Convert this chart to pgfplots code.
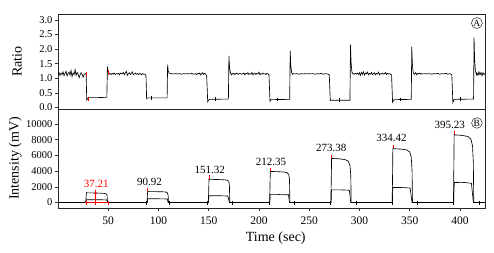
\documentclass[border=0pt]{standalone}
\usepackage{fontspec}
\setmainfont{Liberation Serif}
\usepackage{pgfplots}
\pgfplotsset{compat=1.18}
\begin{document}
\begin{tikzpicture}
\path[use as bounding box] (0pt,0pt) rectangle (494pt,252pt);
\pgfplotsset{
  myax/.style={
    scale only axis, width=427pt, xmin=0, xmax=425,
    axis line style={black!85, line width=0.9pt},
    tick pos=left, tick align=outside, major tick length=3pt,
    tick style={black!80, line width=0.5pt},
    /pgf/number format/assume math mode=true,
    scaled y ticks=false,
    yticklabel style={font=\fontsize{10.5}{12}\selectfont, xshift=1pt},
    xticklabel style={font=\fontsize{11.5}{13}\selectfont, yshift=-2pt},
    unbounded coords=jump,
    clip=true,
  }
}
% ---------------- Top panel (A) ----------------
\begin{axis}[myax, name=top, at={(58pt,143pt)}, anchor=south west, height=95pt,
  ymin=-0.05, ymax=3.2, xtick=\empty,
  ytick={0,0.5,...,3.0},
  yticklabel style={/pgf/number format/fixed, /pgf/number format/fixed zerofill, /pgf/number format/precision=1},
  ylabel={Ratio},
  every axis y label/.style={at={(axis description cs:-0.096,0.5)}, rotate=90, anchor=center, font=\fontsize{14}{16}\selectfont},
]
\addplot[black, line width=0.65pt] coordinates {
(0,1.14)(1,1.19)(2,1.10)(3,1.18)(4,1.13)(5,1.22)(6,1.09)(7,1.17)(8,1.24)(9,1.08)(10,1.16)(11,1.21)(12,1.11)(13,1.27)(14,1.06)(15,1.18)(16,1.13)(17,1.30)(18,1.10)(19,1.20)(20,1.15)(21,1.02)(22,1.12)(23,1.19)(24,1.14)(25,1.04)(26,1.13)(27,1.16)(28,1.15)
(28.6,0.26)(29.5,0.30)(30.5,0.34)(40,0.34)(48.6,0.35)
(49.2,1.40)(49.8,1.25)(50.5,1.18)(51.5,1.15)
(52,1.16)(53,1.13)(54,1.17)(55,1.14)(56,1.18)(57,1.13)(58,1.16)(59,1.15)(60,1.17)(61,1.12)(62,1.18)(63,1.15)(64,1.16)(65,1.20)(66,1.12)(67,1.18)(68,1.24)(69,1.10)(70,1.16)(71,1.19)(72,1.13)(73,1.17)(74,1.22)(75,1.12)(76,1.15)(77,1.18)(78,1.14)(79,1.16)(80,1.13)(81,1.17)(82,1.15)(83,1.12)(84,1.16)(85,1.14)(86,1.15)(87,1.12)(87.6,1.08)
(88.2,0.30)(89,0.33)(100,0.33)(108.6,0.33)
(109.1,1.47)(109.7,1.25)(110.5,1.18)(112,1.15)
(113,1.16)(115,1.15)(117,1.16)(119,1.15)(121,1.16)(123,1.14)(125,1.16)(127,1.15)(129,1.16)(131,1.15)(133,1.17)(135,1.14)(137,1.16)(138,1.13)(139,1.17)(140,1.15)(141,1.18)(142,1.12)(143,1.16)(144,1.19)(145,1.13)(146,1.17)(147,1.15)(148,1.08)
(149,0.20)(150,0.26)(151,0.28)(169.6,0.29)
(170.1,1.77)(170.7,1.40)(171.5,1.20)(172.5,1.12)(173.5,1.16)
(174,1.15)(175,1.17)(176,1.13)(177,1.16)(178,1.18)(179,1.14)(180,1.15)(181,1.17)(182,1.15)(183,1.14)(184,1.16)(185,1.18)(186,1.12)(187,1.17)(188,1.15)(189,1.19)(190,1.13)(191,1.16)(192,1.14)(193,1.20)(194,1.12)(195,1.16)(196,1.18)(197,1.13)(198,1.17)(199,1.15)(200,1.21)(201,1.12)(202,1.16)(203,1.14)(204,1.18)(205,1.15)(206,1.16)(207,1.13)(208,1.17)(209,1.15)(210,1.12)
(211,0.22)(212,0.27)(230.6,0.28)
(231.1,1.94)(231.7,1.45)(232.5,1.20)(233.5,1.14)
(234,1.16)(236,1.15)(238,1.16)(240,1.14)(242,1.16)(244,1.15)(246,1.16)(248,1.15)(250,1.16)(252,1.15)(254,1.16)(256,1.14)(258,1.16)(260,1.15)(262,1.17)(264,1.14)(266,1.16)(268,1.15)(270,1.12)
(271,0.24)(272,0.25)(290.6,0.25)
(291.1,2.15)(291.7,1.55)(292.5,1.22)(293.5,1.15)
(294,1.16)(295,1.14)(296,1.17)(297,1.15)(298,1.18)(299,1.13)(300,1.19)(301,1.10)(302,1.20)(303,1.14)(304,1.22)(305,1.11)(306,1.18)(307,1.15)(308,1.21)(309,1.12)(310,1.17)(311,1.14)(312,1.20)(313,1.13)(314,1.16)(315,1.19)(316,1.12)(317,1.17)(318,1.15)(319,1.21)(320,1.12)(321,1.16)(322,1.15)(323,1.18)(324,1.14)(325,1.16)(326,1.20)(327,1.13)(328,1.17)(329,1.15)(330,1.16)(331,1.14)(332,1.12)
(333,0.18)(334,0.25)(335,0.27)(351.6,0.28)
(352.1,2.08)(352.7,1.50)(353.5,1.20)(354.5,1.14)
(355,1.16)(356,1.19)(357,1.12)(358,1.17)(359,1.15)(360,1.18)(361,1.14)(362,1.16)(364,1.15)(366,1.16)(368,1.15)(370,1.16)(372,1.14)(374,1.16)(376,1.15)(378,1.17)(380,1.14)(382,1.16)(384,1.15)(386,1.17)(388,1.14)(390,1.16)(392,1.12)
(393,0.17)(394,0.26)(395,0.28)(413.6,0.29)
(414.1,2.39)(414.7,1.60)(415.5,1.25)(416.5,1.12)
(417,1.18)(418,1.10)(419,1.22)(420,1.12)(421,1.20)(422,1.09)(423,1.19)(424,1.13)(425,1.16)
};
\addplot[red, only marks, mark=|, mark size=2.2pt, mark options={line width=0.8pt}] coordinates {(28,1.15)(30,0.30)(50,1.20)};
\addplot[black, only marks, mark=|, mark size=1.8pt, mark options={line width=0.6pt}] coordinates {(93,0.33)(157,0.29)(218,0.28)(280,0.25)(341,0.28)(400,0.29)};
\node[draw, circle, inner sep=0.6pt, line width=0.4pt, font=\fontsize{9.5}{10}\selectfont] at (rel axis cs:0.981,0.905) {A};
\end{axis}
% ---------------- Bottom panel (B) ----------------
\begin{axis}[myax, name=bot, at={(58pt,44pt)}, anchor=south west, height=99pt,
  ymin=-700, ymax=11900,
  ytick={0,2000,...,10000},
  xtick={50,100,...,400},
  yticklabel style={/pgf/number format/fixed, /pgf/number format/1000 sep={}},
  ylabel={Intensity (mV)}, xlabel={Time (sec)},
  every axis y label/.style={at={(axis description cs:-0.100,0.5)}, rotate=90, anchor=center, font=\fontsize{14}{16}\selectfont},
  every axis x label/.style={at={(axis description cs:0.51,-0.30)}, anchor=center, font=\fontsize{14}{16}\selectfont},
]
% upper channel
\addplot[black, line width=0.65pt] coordinates {
(0,0)(27.6,0)(28,800)(28.3,1260)(29,1230)(35,1220)(42,1190)(46,1160)(48,1100)(48.8,950)(49.2,0)
(88.6,0)(89,1000)(89.3,1420)(90,1390)(97,1380)(103,1370)(107,1340)(108.8,1250)(109.6,900)(110,0)
(149.6,0)(150,1500)(150.3,3000)(151,2950)(158,2930)(164,2900)(168,2850)(170,2700)(170.6,2200)(171,0)
(210.6,0)(211,2000)(211.3,4000)(212,3950)(219,3920)(225,3880)(228,3800)(229.6,3600)(230.4,3000)(230.8,0)
(271.6,0)(272,3000)(272.3,5650)(273,5600)(280,5560)(286,5450)(289,5250)(290.6,4700)(291.4,3500)(291.8,0)
(332.6,0)(333,3500)(333.3,6900)(334,6850)(341,6800)(347,6700)(350,6450)(351.6,5800)(352.4,4000)(352.8,0)
(393.6,0)(394,4500)(394.3,8700)(395,8600)(402,8550)(408,8400)(411,8050)(412.6,7200)(413.4,5000)(413.8,0)
(425,0)
};
% lower channel
\addplot[black, line width=0.65pt] coordinates {
(0,0)(27.8,0)(28.2,350)(35,360)(45,340)(48.8,320)(49.2,0)
(88.8,0)(89.2,470)(100,470)(108.8,450)(109.6,0)
(149.8,0)(150.2,850)(160,860)(169,830)(170.6,0)
(210.8,0)(211.2,1000)(220,1010)(229.4,980)(230.4,0)
(271.8,0)(272.2,1600)(281,1610)(290,1560)(291.4,0)
(332.8,0)(333.2,1900)(342,1900)(350.5,1850)(352.4,0)
(393.8,0)(394.2,1900)(394.6,2550)(403,2560)(411.5,2450)(413.4,0)
(425,0)
};
% baseline ticks
\addplot[black, only marks, mark=|, mark size=2pt, mark options={line width=0.6pt}] coordinates {
(88,0)(111,0)(149,0)(173,0)(210.5,0)(235,0)(271.5,0)(297,0)(332.5,0)(358,0)(393.5,0)(419,0)};
% first-pulse red markers
\addplot[red, line width=0.6pt] coordinates {(27,0)(50,0)};
\addplot[red, only marks, mark=|, mark size=2pt, mark options={line width=0.6pt}] coordinates {(28,0)(50,0)};
\addplot[red, line width=0.6pt] coordinates {(37,-300)(37,1600)};
\addplot[red, line width=0.6pt] coordinates {(35.5,1230)(38.5,1230)};
% red peak markers
\addplot[red, line width=0.6pt] coordinates {
(89,1420)(89,1850)(89,nan)
(150.3,3000)(150.3,3450)(150.3,nan)
(211.3,4000)(211.3,4450)(211.3,nan)
(272.3,5650)(272.3,6100)(272.3,nan)
(333.3,6900)(333.3,7350)(333.3,nan)
(394.3,8700)(394.3,9150)};
\begin{scope}[font=\fontsize{11}{12}\selectfont]
\node[red] at (axis cs:38,2370) {37.21};
\node at (axis cs:91,2630) {90.92};
\node at (axis cs:151,4150) {151.32};
\node at (axis cs:212,5170) {212.35};
\node at (axis cs:272,6950) {273.38};
\node at (axis cs:332,8200) {334.42};
\node at (axis cs:390,9870) {395.23};
\end{scope}
\node[draw, circle, inner sep=0.6pt, line width=0.4pt, font=\fontsize{9.5}{10}\selectfont] at (rel axis cs:0.981,0.859) {B};
\end{axis}
\end{tikzpicture}
\end{document}
